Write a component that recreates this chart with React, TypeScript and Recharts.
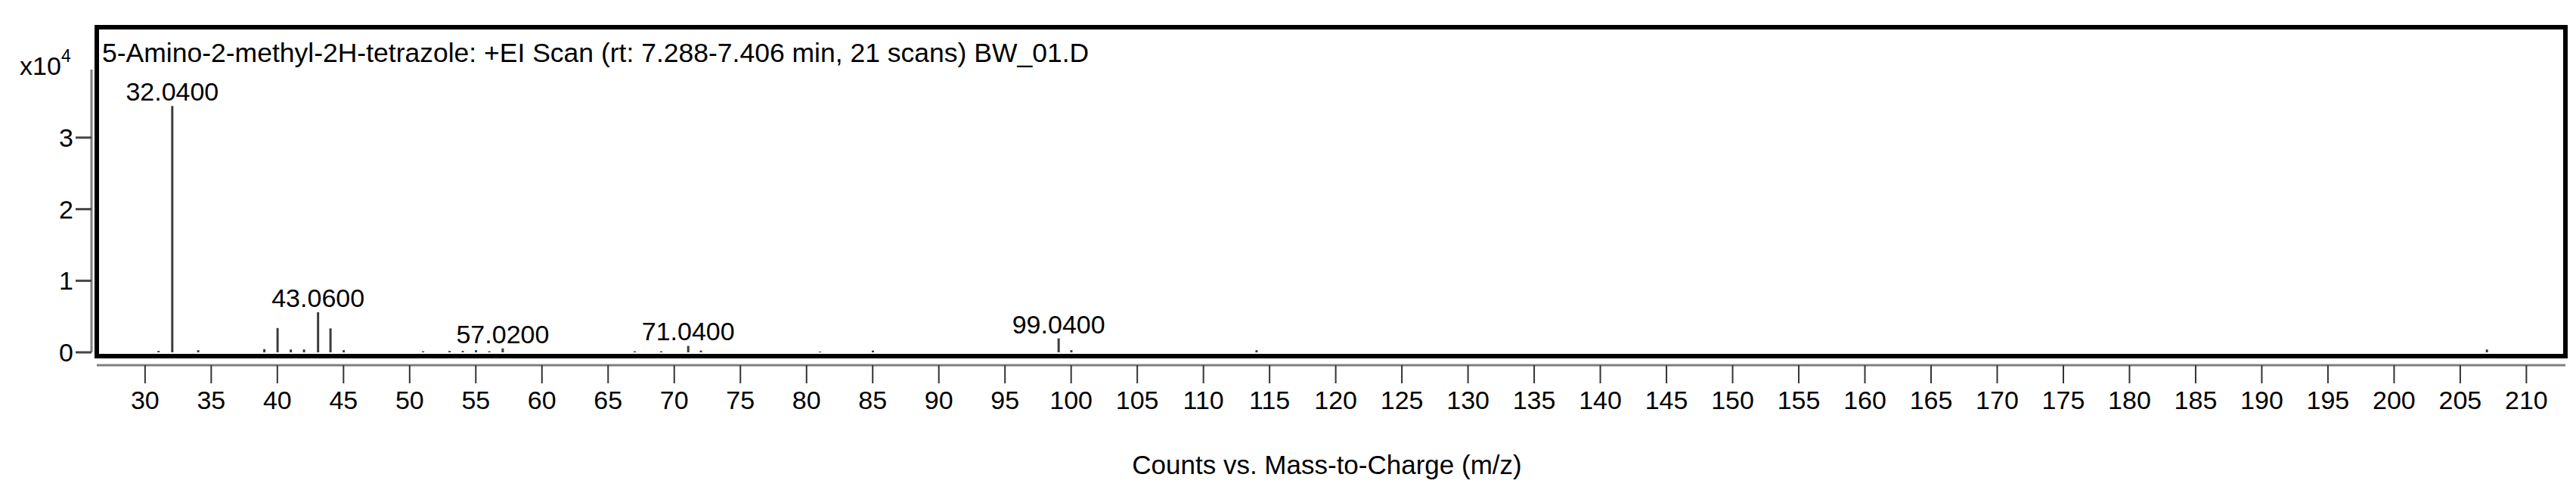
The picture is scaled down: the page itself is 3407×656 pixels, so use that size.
import { Bar, BarChart, LabelList, ReferenceArea, XAxis, YAxis } from "recharts";

// EI spectrum peaks
const mzValues = [31.0, 32.04, 34.0, 39.0, 40.0, 41.0, 42.0, 43.06, 44.0, 45.0, 51.0, 53.0, 54.0, 55.0, 56.0, 57.02, 67.0, 69.0, 71.04, 72.0, 81.0, 85.0, 99.04, 100.0, 114.0, 207.0];
const counts = [200, 34400, 300, 450, 3400, 400, 400, 5600, 3350, 300, 150, 200, 200, 300, 150, 550, 150, 150, 900, 250, 100, 250, 1950, 300, 300, 400];
const labeledMz = [32.04, 43.06, 57.02, 71.04, 99.04];

const xTicks = [30, 35, 40, 45, 50, 55, 60, 65, 70, 75, 80, 85, 90, 95, 100, 105, 110, 115, 120, 125, 130, 135, 140, 145, 150, 155, 160, 165, 170, 175, 180, 185, 190, 195, 200, 205, 210];
const yTicks = [0, 10000, 20000, 30000];
const xDomain = [26.35, 212.95];
const yDomain = [-528, 45420];

const spectrum = mzValues.map((mz, i) => ({
  mz,
  counts: counts[i],
  label: labeledMz.includes(mz) ? mz.toFixed(4) : undefined,
}));

const font = '"Liberation Sans", Arial, sans-serif';
const W = 3407;
const H = 656;
const textStyle = { fill: "#000", fontSize: 34, fontFamily: font };

export default function App() {
  return (
    <div style={{ position: "absolute", left: 0, top: 0, width: W, height: H, background: "#fff" }}>
      <BarChart width={W} height={H} data={spectrum} margin={{ top: 36, right: 14, bottom: 125, left: 0 }}>
        <XAxis type="number" dataKey="mz" domain={xDomain} ticks={xTicks} interval={0} allowDataOverflow height={60}
          axisLine={{ stroke: "#7f7f7f", strokeWidth: 3, transform: "translate(0 12)" }}
          tickLine={{ stroke: "#333", strokeWidth: 2, transform: "translate(0 12)" }}
          tickSize={24} tickMargin={22} tick={textStyle}/>
        <YAxis type="number" domain={yDomain} ticks={yTicks} allowDataOverflow width={128}
          tickFormatter={(v) => String(v / 10000)}
          axisLine={{ stroke: "#7f7f7f", strokeWidth: 3, transform: "translate(-7 0)", strokeDasharray: "0 56 374 10" }}
          tickLine={{ stroke: "#444", strokeWidth: 3, transform: "translate(-7 0)" }}
          tickSize={21} tickMargin={10} tick={textStyle}/>
        <ReferenceArea x1={xDomain[0]} x2={xDomain[1]} y1={yDomain[0]} y2={yDomain[1]} fill="none" fillOpacity={0} stroke="#000" strokeWidth={6} strokeOpacity={1} ifOverflow="visible"/>
        <Bar dataKey="counts" fill="#3c3c3c" barSize={3} isAnimationActive={false}>
          <LabelList dataKey="label" position="top" offset={7} fill="#000" fontSize={34} fontFamily={font}/>
        </Bar>
      </BarChart>
      <svg width={W} height={H} style={{ position: "absolute", left: 0, top: 0, pointerEvents: "none" }} fontFamily={font} fill="#000">
        <text x={135} y={82} fontSize={35.5}>5-Amino-2-methyl-2H-tetrazole: +EI Scan (rt: 7.288-7.406 min, 21 scans) BW_01.D</text>
        <text x={26} y={99} fontSize={34}>x10</text>
        <text x={81} y={82} fontSize={23}>4</text>
        <text x={1755} y={627} fontSize={35} textAnchor="middle">Counts vs. Mass-to-Charge (m/z)</text>
      </svg>
    </div>
  );
}
